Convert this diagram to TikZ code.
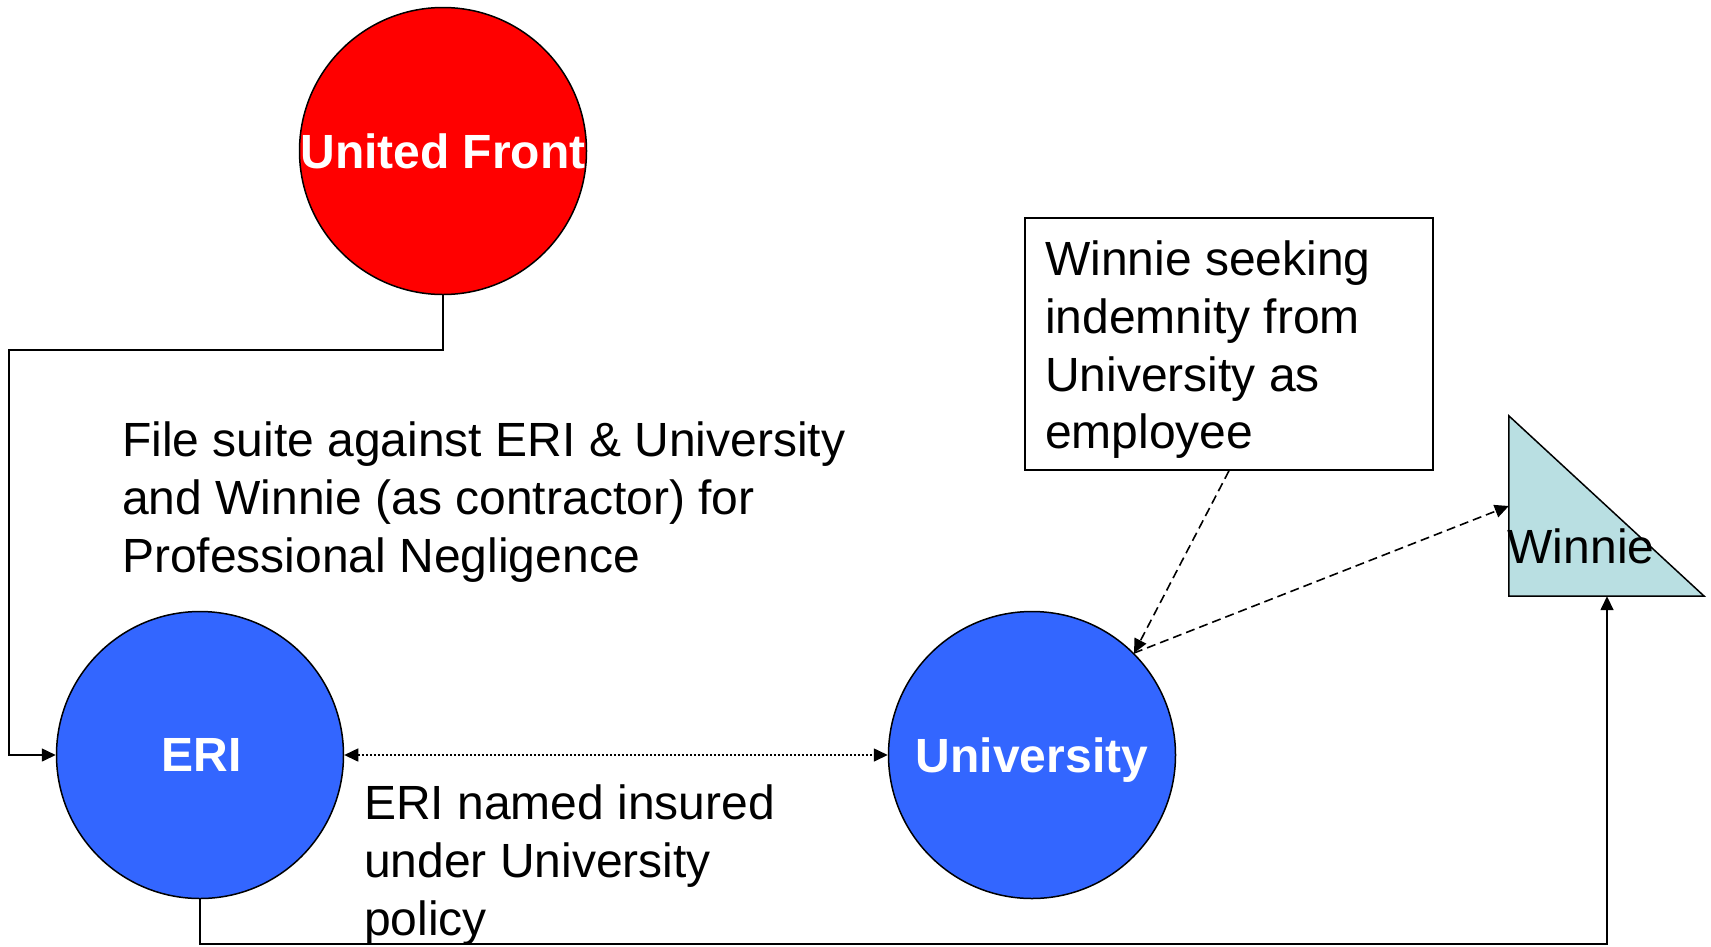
\documentclass[tikz,border=0pt]{standalone}
\usepackage{fontspec}
\setmainfont{Liberation Sans}
\usetikzlibrary{arrows.meta}

\definecolor{ufred}{RGB}{255,0,0}
\definecolor{partyblue}{RGB}{51,102,255}
\definecolor{wintri}{RGB}{185,223,226}

\tikzset{
  party/.style={circle, draw=black, line width=1.5pt, minimum size=287pt, inner sep=0pt,
    text depth=0pt, text=white, font=\fontsize{48}{57.6}\selectfont\bfseries},
  note/.style={align=left, inner sep=0pt, anchor=north west,
    font=\fontsize{48}{57.6}\selectfont},
  conn/.style={line width=1.6pt, -{Triangle[length=14pt,width=13pt]}},
  dashconn/.style={line width=1.6pt, dash pattern=on 9pt off 5pt,
    -{Triangle[length=14pt,width=13pt]}},
  dotconn/.style={line width=1.6pt, dash pattern=on 2pt off 2pt,
    {Triangle[length=14pt,width=13pt]}-{Triangle[length=14pt,width=13pt]}},
}

\begin{document}
\begin{tikzpicture}[x=1pt, y=-1pt]
  \useasboundingbox (0,0) rectangle (1711,946);

  % parties
  \node[party, fill=ufred] (uf) at (443,151) {United Front};
  \node[party, fill=partyblue] (eri) at (200,755) {\hspace{3pt}ERI};
  \node[party, fill=partyblue] (uni) at (1032,755) {University};

  % Winnie: right triangle inside an invisible frame node
  \node[minimum width=195pt, minimum height=180pt, inner sep=0pt] (win) at (1606.5,506) {};
  \draw[fill=wintri, line width=1.5pt] (win.north west) -- (win.south west) -- (win.south east) -- cycle;
  \node[font=\fontsize{48}{57.6}\selectfont, inner sep=0pt] (winlbl) at (1581,546) {Winnie};

  % indemnity note box
  \node[draw, line width=1.5pt, minimum width=408pt, minimum height=252pt, inner sep=0pt] (box) at (1229,344) {};
  \node[note] (boxtxt) at (1045,241) {Winnie seeking\\indemnity from\\University as\\employee};

  % free text
  \node[note] (suit) at (122,422) {File suite against ERI \& University\\and Winnie (as contractor) for\\Professional Negligence};
  \node[note] (ins) at (364,785) {ERI named insured\\under University\\policy};

  % connectors
  \coordinate (c1) at (9,350);
  \coordinate (c2) at (1607,944);
  \draw[conn] (uf.south) |- (c1) |- (eri.west);
  \draw[conn] (eri.south) |- (c2) -- (win.south -| c2);
  \draw[dotconn] (eri.east) -- (uni.west);
  \draw[dashconn] (box.south) -- (uni.45);
  \draw[dashconn] (uni.45) -- (win.west);
\end{tikzpicture}
\end{document}
